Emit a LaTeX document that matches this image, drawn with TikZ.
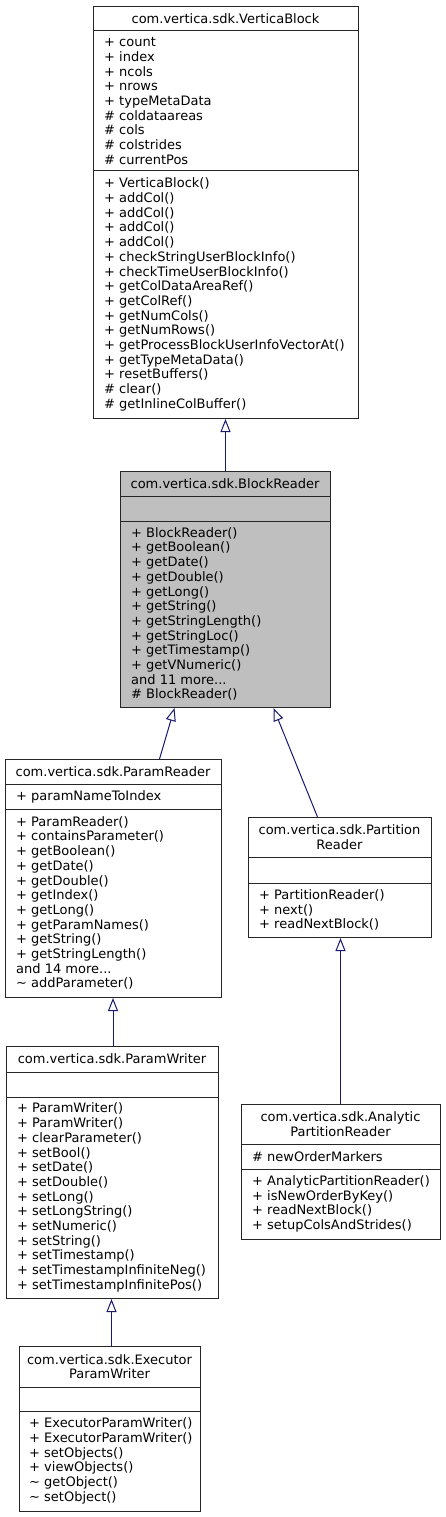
\documentclass[tikz,border=0pt]{standalone}
\usepackage{fontspec}
\setmainfont{DejaVu Sans}
\usetikzlibrary{arrows.meta}
\definecolor{edgeblue}{HTML}{191970}
\definecolor{classgray}{HTML}{BFBFBF}

\begin{document}
\begin{tikzpicture}[x=1pt, y=-1pt,
        classbox/.style={draw=black!85, line width=1pt, inner sep=0pt, anchor=north west, fill=white},
        classtitle/.style={font=\fontsize{13}{14.7}\selectfont, align=center, inner sep=0pt},
        members/.style={font=\fontsize{13}{14.7}\selectfont, align=left, inner sep=0pt, anchor=west},
        inherit/.style={edgeblue, line width=1pt, -{Triangle[open, length=13pt, width=10pt, fill=white]}}]
        \useasboundingbox (0,0) rectangle (445,1517);
        \node[classbox, minimum width=265pt, minimum height=412pt] (vblock) at (93,6) {};
        \node[classbox, fill=classgray, minimum width=210pt, minimum height=236pt] (breader) at (120,471) {};
        \node[classbox, minimum width=216pt, minimum height=238pt] (preader) at (5,759) {};
        \node[classbox, minimum width=183pt, minimum height=120pt] (partreader) at (248,817) {};
        \node[classbox, minimum width=212pt, minimum height=252pt] (pwriter) at (6,1046) {};
        \node[classbox, minimum width=199pt, minimum height=135pt] (apreader) at (241,1104) {};
        \node[classbox, minimum width=181pt, minimum height=165pt] (epwriter) at (19,1346) {};
        \foreach \xa/\xb/\ya in {93/358/31, 93/358/171, 120/330/496, 120/330/521, 5/221/784, 5/221/809,
                248/431/857, 248/431/883, 6/218/1072, 6/218/1097, 241/440/1144, 241/440/1169,
                19/200/1387, 19/200/1411} {
            \draw[black!85, line width=1pt] (\xa,\ya) -- (\xb,\ya);
        }
        \node[classtitle] (vblocktitle) at (225.5,18.5) {com.vertica.sdk.VerticaBlock};
        \node[members] (vblockattr) at (104,101) {+ count\\+ index\\+ ncols\\+ nrows\\+ typeMetaData\\\# coldataareas\\\# cols\\\# colstrides\\\# currentPos};
        \node[members] (vblockops) at (104,294.5) {+ VerticaBlock()\\+ addCol()\\+ addCol()\\+ addCol()\\+ addCol()\\+ checkStringUserBlockInfo()\\+ checkTimeUserBlockInfo()\\+ getColDataAreaRef()\\+ getColRef()\\+ getNumCols()\\+ getNumRows()\\+ getProcessBlockUserInfoVectorAt()\\+ getTypeMetaData()\\+ resetBuffers()\\\# clear()\\\# getInlineColBuffer()};
        \node[classtitle] (breadertitle) at (225,483.5) {com.vertica.sdk.BlockReader};
        \node[members] (breaderops) at (131,614) {+ BlockReader()\\+ getBoolean()\\+ getDate()\\+ getDouble()\\+ getLong()\\+ getString()\\+ getStringLength()\\+ getStringLoc()\\+ getTimestamp()\\+ getVNumeric()\\and 11 more...\\\# BlockReader()};
        \node[classtitle] (preadertitle) at (113,771.5) {com.vertica.sdk.ParamReader};
        \node[members] (preaderattr) at (16,796.5) {+ paramNameToIndex};
        \node[members] (preaderops) at (16,903) {+ ParamReader()\\+ containsParameter()\\+ getBoolean()\\+ getDate()\\+ getDouble()\\+ getIndex()\\+ getLong()\\+ getParamNames()\\+ getString()\\+ getStringLength()\\and 14 more...\\\textasciitilde{} addParameter()};
        \node[classtitle] (partreadertitle) at (339.5,837) {com.vertica.sdk.Partition\\Reader};
        \node[members] (partreaderops) at (259,910) {+ PartitionReader()\\+ next()\\+ readNextBlock()};
        \node[classtitle] (pwritertitle) at (112,1059) {com.vertica.sdk.ParamWriter};
        \node[members] (pwriterops) at (17,1197.5) {+ ParamWriter()\\+ ParamWriter()\\+ clearParameter()\\+ setBool()\\+ setDate()\\+ setDouble()\\+ setLong()\\+ setLongString()\\+ setNumeric()\\+ setString()\\+ setTimestamp()\\+ setTimestampInfiniteNeg()\\+ setTimestampInfinitePos()};
        \node[classtitle] (apreadertitle) at (340.5,1124) {com.vertica.sdk.Analytic\\PartitionReader};
        \node[members] (apreaderattr) at (252,1156.5) {\# newOrderMarkers};
        \node[members] (apreaderops) at (252,1204) {+ AnalyticPartitionReader()\\+ isNewOrderByKey()\\+ readNextBlock()\\+ setupColsAndStrides()};
        \node[classtitle] (epwritertitle) at (109.5,1366.5) {com.vertica.sdk.Executor\\ParamWriter};
        \node[members] (epwriterops) at (29,1461) {+ ExecutorParamWriter()\\+ ExecutorParamWriter()\\+ setObjects()\\+ viewObjects()\\\textasciitilde{} getObject()\\\textasciitilde{} setObject()};
        \draw[inherit] (breader.north) -- (breader.north |- vblock.south);
        \draw[inherit] ([xshift=46pt]preader.north) -- ([xshift=-51pt]breader.south);
        \draw[inherit] ([xshift=-22.5pt]partreader.north) -- ([xshift=48pt]breader.south);
        \draw[inherit] ([xshift=0.5pt]pwriter.north) -- ([xshift=0.5pt]pwriter.north |- preader.south);
        \draw[inherit] ([xshift=-0.5pt]apreader.north) -- ([xshift=-0.5pt]apreader.north |- partreader.south);
        \draw[inherit] ([xshift=1.5pt]epwriter.north) -- ([xshift=1.5pt]epwriter.north |- pwriter.south);
    \end{tikzpicture}
\end{document}
